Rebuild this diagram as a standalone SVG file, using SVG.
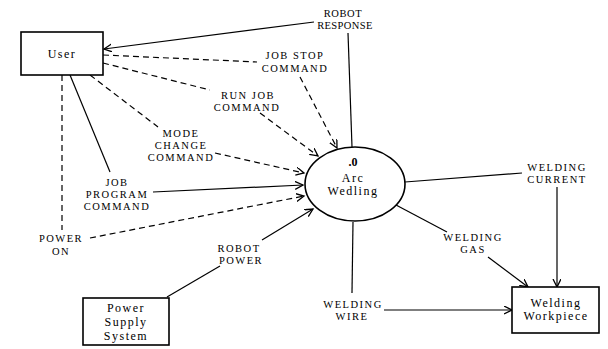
<svg xmlns="http://www.w3.org/2000/svg" width="608" height="349" viewBox="0 0 608 349">
<defs>
<marker id="arr" markerWidth="10" markerHeight="10" refX="8" refY="4" orient="auto" markerUnits="userSpaceOnUse">
<path d="M0,0 L8,4 L0,8" fill="none" stroke="#000" stroke-width="1.3"/>
</marker>
<style>
.box{fill:#fff;stroke:#000;stroke-width:1.6}
.ln{fill:none;stroke:#000;stroke-width:1.2}
.ds{fill:none;stroke:#000;stroke-width:1.2;stroke-dasharray:6 4}
.lbl{font-family:"Liberation Serif",serif;font-size:10.5px;letter-spacing:1.5px;text-anchor:middle;fill:#000}
.nt{font-family:"Liberation Serif",serif;font-size:12px;letter-spacing:1.5px;text-anchor:middle;fill:#000}
</style>
</defs>
<rect width="608" height="349" fill="#fff"/>
<g id="connectors">
<path class="ln" d="M352,147 L348,33"/>
<path class="ln" d="M314,22 L104,49" marker-end="url(#arr)"/>
<path class="ds" d="M103,55 L257,62"/>
<path class="ds" d="M300,77 L337,148" marker-end="url(#arr)"/>
<path class="ds" d="M103,63 L210,90"/>
<path class="ds" d="M260,113 L318,156" marker-end="url(#arr)"/>
<path class="ds" d="M90,75 L158,127"/>
<path class="ds" d="M215,153 L304,173" marker-end="url(#arr)"/>
<path class="ln" d="M70,75 L110,172"/>
<path class="ln" d="M153,192 L303,185" marker-end="url(#arr)"/>
<path class="ds" d="M62,75 L62,230"/>
<path class="ds" d="M90,238 L304,196" marker-end="url(#arr)"/>
<path class="ln" d="M167,297 L220,266"/>
<path class="ln" d="M262,240 L313,209" marker-end="url(#arr)"/>
<path class="ln" d="M405,182 L522,173"/>
<path class="ln" d="M557,187 L557,287" marker-end="url(#arr)"/>
<path class="ln" d="M396,205 L447,232"/>
<path class="ln" d="M488,257 L528,287" marker-end="url(#arr)"/>
<path class="ln" d="M353,222 L352,293"/>
<path class="ln" d="M384,310 L512,310" marker-end="url(#arr)"/>
<text class="lbl" x="343" y="17" style="letter-spacing:0.6px">ROBOT</text>
<text class="lbl" x="345" y="29" style="letter-spacing:0.4px">RESPONSE</text>
<text class="lbl" x="295" y="59">JOB STOP</text>
<text class="lbl" x="295" y="72">COMMAND</text>
<text class="lbl" x="248" y="99">RUN JOB</text>
<text class="lbl" x="247" y="111">COMMAND</text>
<text class="lbl" x="181" y="137">MODE</text>
<text class="lbl" x="181" y="149">CHANGE</text>
<text class="lbl" x="181" y="161">COMMAND</text>
<text class="lbl" x="117" y="186">JOB</text>
<text class="lbl" x="117" y="198">PROGRAM</text>
<text class="lbl" x="117" y="210">COMMAND</text>
<text class="lbl" x="61" y="242">POWER</text>
<text class="lbl" x="61" y="255">ON</text>
<text class="lbl" x="239" y="252">ROBOT</text>
<text class="lbl" x="241" y="264">POWER</text>
<text class="lbl" x="557" y="171">WELDING</text>
<text class="lbl" x="557" y="183">CURRENT</text>
<text class="lbl" x="473" y="241">WELDING</text>
<text class="lbl" x="473" y="253">GAS</text>
<text class="lbl" x="353" y="308">WELDING</text>
<text class="lbl" x="352" y="320">WIRE</text>
</g>
<g id="user">
<rect class="box" x="21" y="32" width="82" height="43"/>
<text class="nt" x="62" y="58">User</text>
</g>
<g id="arc-welding">
<ellipse class="box" cx="355" cy="184" rx="50" ry="37"/>
<text class="nt" x="353" y="166" style="font-weight:bold;letter-spacing:0">.0</text>
<text class="nt" x="353" y="182">Arc</text>
<text class="nt" x="353" y="195">Wedling</text>
</g>
<g id="power-supply">
<rect class="box" x="83" y="298" width="86" height="47"/>
<text class="nt" x="126" y="312">Power</text>
<text class="nt" x="126" y="326">Supply</text>
<text class="nt" x="126" y="340">System</text>
</g>
<g id="welding-workpiece">
<rect class="box" x="512" y="287" width="87" height="46"/>
<text class="nt" x="556" y="307">Welding</text>
<text class="nt" x="556" y="320">Workpiece</text>
</g>
</svg>
